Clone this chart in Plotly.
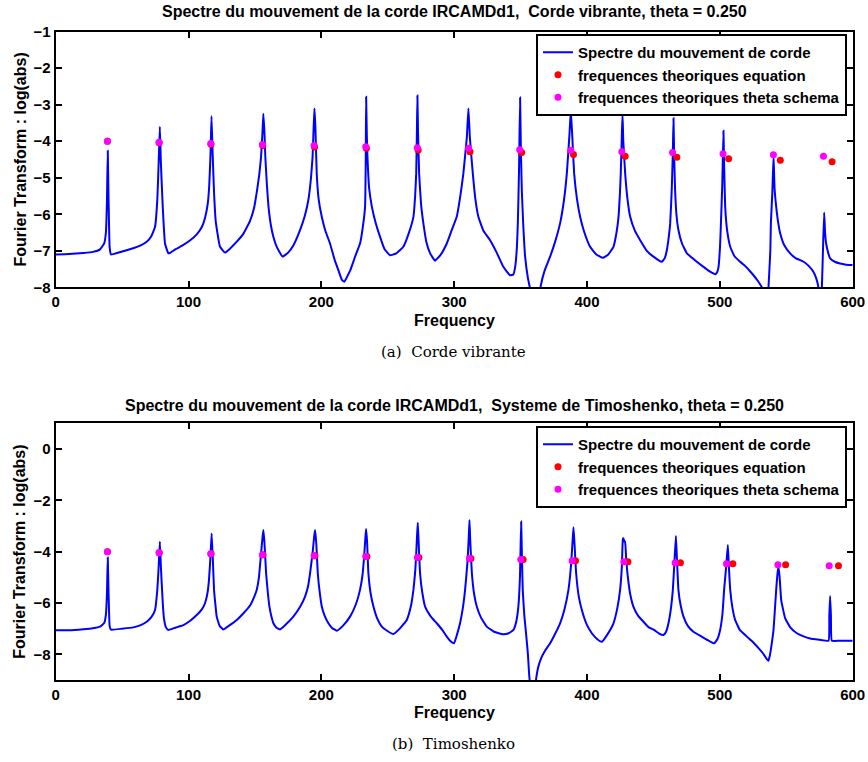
import plotly.graph_objects as go

# ---------------- data ----------------
# Top panel: Corde vibrante
freq_a = [0, 10, 20.8, 28, 33.4, 36.5, 37.8, 38.6, 39.2, 39.8, 40.6, 41.6, 50, 58.4, 64, 68.5, 72, 74.8,
          76.5, 77.5, 78.4, 79.2, 80.6, 82.3, 84.8, 86.5, 90, 96.1, 101, 106.2, 110, 112.4, 114.5, 115.6,
          116.5, 117.3, 118.2, 119.2, 120.5, 123.7, 127.5, 131, 136.3, 141, 146.3, 149.5, 151.6, 153.3,
          154.6, 155.6, 156.3, 157.2, 157.8, 159, 160.2, 162, 163.9, 166.5, 170.8, 175, 179, 184, 187.5,
          190.2, 192.2, 193.4, 194.2, 194.8, 195.5, 196.5, 198, 200.3, 203, 206.5, 210, 212.8, 215.5,
          217.3, 219.5, 221.6, 225.5, 229.1, 231.2, 232.9, 233.4, 233.7, 234.2, 234.7, 236, 238, 241,
          244.2, 247.5, 251.7, 256, 261.7, 265.5, 269.3, 270.6, 271.4, 271.9, 272.3, 272.8, 273.6, 275,
          276.8, 279, 281.9, 285.6, 290, 294.4, 298, 301.9, 305, 306.9, 309.5, 310.7, 311.8, 314, 316,
          318.2, 322, 327, 332, 337, 342, 344.5, 345.9, 347.2, 347.9, 348.8, 349.6, 350.2, 350.9, 352,
          353.4, 355.5, 357.2, 359, 361, 363.5, 365.2, 368, 372.2, 376, 379.7, 382.5, 384.8, 386.8,
          387.8, 388.8, 390.3, 392.5, 394.8, 398, 402.3, 407, 411.9, 416, 419.9, 422.2, 423.7, 424.8,
          425.4, 426.1, 426.7, 427.3, 428.7, 430.5, 432.5, 436, 440, 445, 450, 456.3, 458.5, 460.1,
          461.6, 462.6, 463.8, 464.6, 465.1, 465.6, 466.3, 467.3, 468.8, 471.5, 475.2, 481, 487.7, 493,
          496.5, 498, 499, 500.1, 500.8, 501.8, 502.7, 503.3, 504, 505.5, 507.8, 511, 515.3, 520, 525.3,
          528.5, 531.6, 533.5, 535.5, 536.6, 538, 538.4, 539.5, 540.4, 541.2, 542.4, 544, 545.4, 548.5,
          552.9, 557, 563, 567, 570.5, 572.5, 574.2, 575.5, 576.8, 577.6, 578.5, 579.2, 580, 581.5, 583,
          586.5, 590.5, 595, 600]
spec_a = [-7.10, -7.09, -7.06, -7.03, -6.96, -6.80, -6.50, -5.6, -4.26, -5.6, -6.9, -7.10, -7.02, -6.93,
          -6.85, -6.75, -6.60, -6.34, -5.6, -4.6, -3.60, -4.6, -5.8, -6.80, -7.07, -7.05, -6.96, -6.84,
          -6.72, -6.55, -6.35, -6.10, -5.7, -5.2, -4.4, -3.31, -4.4, -5.4, -6.2, -6.89, -7.05, -6.95,
          -6.75, -6.55, -6.18, -5.80, -5.34, -4.9, -4.42, -3.8, -3.25, -3.8, -4.42, -5.2, -5.79, -6.3,
          -6.62, -6.90, -7.16, -7.05, -6.85, -6.43, -6.05, -5.61, -5.0, -4.42, -3.6, -3.10, -3.6, -4.88,
          -5.6, -6.07, -6.45, -6.80, -7.25, -7.53, -7.80, -7.85, -7.70, -7.55, -7.15, -6.80, -6.35,
          -5.79, -4.6, -2.78, -3.8, -4.42, -5.3, -5.79, -6.25, -6.62, -6.95, -7.12, -7.08, -6.89, -6.55,
          -6.07, -5.5, -4.88, -3.8, -2.75, -3.8, -4.88, -5.7, -6.25, -6.75, -7.07, -7.27, -7.10, -6.80,
          -6.45, -6.07, -5.4, -4.88, -3.9, -3.10, -3.9, -4.88, -5.6, -6.07, -6.45, -6.71, -7.05, -7.44,
          -7.67, -7.65, -7.44, -6.9, -6.25, -4.8, -2.80, -4.2, -5.34, -6.3, -7.16, -7.75, -8.05, -8.5,
          -8.6, -8.4, -7.95, -7.55, -7.16, -6.75, -6.25, -5.65, -4.88, -3.8, -3.16, -3.8, -4.88, -5.6,
          -6.07, -6.5, -6.89, -7.10, -7.19, -7.10, -6.89, -6.5, -6.07, -5.4, -4.88, -4.0, -3.25, -4.0,
          -4.88, -5.6, -6.07, -6.45, -6.71, -7.0, -7.16, -7.30, -7.2, -6.98, -6.6, -6.25, -5.3, -4.3,
          -3.37, -4.4, -5.34, -6.0, -6.43, -6.8, -7.07, -7.25, -7.44, -7.58, -7.64, -7.58, -7.44, -6.9,
          -6.25, -5.2, -3.71, -4.8, -5.79, -6.45, -6.89, -7.15, -7.30, -7.45, -7.67, -7.82, -8.0, -8.6,
          -8.6, -8.0, -7.0, -6.25, -5.4, -4.40, -5.3, -5.79, -6.25, -6.52, -6.85, -7.07, -7.20, -7.30,
          -7.42, -7.58, -7.75, -8.0, -8.6, -8.0, -7.0, -5.95, -6.5, -6.8, -7.05, -7.21, -7.30, -7.35,
          -7.38, -7.39]
eq_freq_a = [39.0, 77.9, 116.9, 155.9, 194.9, 233.9, 272.9, 311.9, 350.8, 389.8, 428.7, 467.6, 506.6, 545.5, 584.5]
eq_val_a = [-4.00, -4.04, -4.08, -4.12, -4.16, -4.19, -4.24, -4.29, -4.31, -4.36, -4.41, -4.44, -4.48, -4.52, -4.56]
th_freq_a = [38.9, 77.8, 116.7, 155.6, 194.5, 233.4, 272.2, 310.8, 349.3, 387.8, 426.2, 464.4, 502.4, 540.3, 578.0]
th_val_a = [-4.00, -4.03, -4.06, -4.09, -4.12, -4.15, -4.18, -4.19, -4.23, -4.25, -4.29, -4.31, -4.34, -4.37, -4.41]

# Bottom panel: Systeme de Timoshenko
freq_b = [0, 10, 20.8, 28, 33.4, 36.5, 37.8, 38.6, 39.2, 39.8, 40.6, 41.6, 50, 58.4, 64, 68.5, 72, 74.8,
          76.5, 77.5, 78.4, 79.2, 80.6, 81.5, 83, 84.8, 88, 92, 96.1, 101, 106.2, 110, 112.4, 114.3,
          115.4, 116.5, 117.4, 118.3, 119.2, 120.3, 121.2, 123.5, 126.2, 130, 136.3, 141, 146.3, 149.5,
          151.3, 153, 154.4, 155.6, 156.3, 157.1, 158.4, 159.7, 160.9, 162.5, 163.9, 166, 168.9, 173,
          178.9, 184, 187.7, 190, 191.5, 193.5, 194.6, 195.3, 196.2, 197.3, 198.8, 200.3, 202.5, 205.3,
          208, 211.6, 216, 221.6, 226, 229.1, 231, 232.2, 233.2, 233.7, 234.4, 235.4, 237, 239.2, 242,
          245.5, 250, 254.2, 259, 264.3, 267.5, 269.3, 270.6, 271.3, 272.1, 272.6, 273.2, 274.3, 276,
          278.1, 282, 286.9, 291, 294.4, 297.5, 299.9, 302, 304.4, 306.5, 308.2, 310, 310.9, 311.5,
          312.1, 313.3, 315, 317, 320, 324.5, 330, 337, 341, 344.6, 346.8, 348.3, 349.5, 350.4, 351,
          351.6, 352.8, 354.1, 355.5, 356.6, 358.5, 360.5, 361.7, 363.5, 366, 368.5, 372.2, 376, 379.7,
          383, 386, 388, 389.1, 389.8, 390.6, 391.8, 393.8, 396.1, 399.5, 403.6, 407.5, 411.1, 415,
          419.9, 422.8, 424.9, 426.2, 427.0, 427.4, 428.0, 428.6, 429.4, 430.4, 432.5, 434.9, 438.5,
          442.5, 446.5, 450.5, 454, 457.5, 459.5, 461.3, 463.2, 464.6, 465.8, 466.9, 467.7, 468.8,
          470.5, 472.6, 476, 480.1, 486, 491, 495.7, 498.2, 500.2, 502, 503.2, 504.7, 506.0, 506.8,
          507.8, 509.5, 511.5, 515, 520.3, 524.5, 529.1, 533, 535.5, 536.6, 537.8, 539, 540.4, 541.5,
          542.4, 543.3, 544.1, 545.0, 546.2, 549.2, 553, 558, 563, 568, 575, 581.8, 582.4, 583.0,
          583.6, 584.3, 590, 600]
spec_b = [-7.06, -7.06, -7.02, -6.98, -6.92, -6.78, -6.45, -5.6, -4.23, -5.6, -6.9, -7.04, -7.00, -6.95,
          -6.86, -6.73, -6.55, -6.27, -5.49, -4.6, -3.61, -4.6, -6.0, -6.6, -6.95, -7.05, -7.0, -6.93,
          -6.86, -6.70, -6.47, -6.25, -6.01, -5.6, -5.10, -4.2, -3.29, -4.3, -5.49, -6.1, -6.53, -6.9,
          -7.03, -6.90, -6.66, -6.42, -6.10, -5.75, -5.49, -5.0, -4.19, -3.5, -3.16, -3.6, -4.84, -5.6,
          -6.14, -6.55, -6.79, -6.95, -7.03, -6.85, -6.53, -6.15, -5.75, -5.35, -4.84, -4.0, -3.4,
          -3.16, -3.7, -4.84, -5.6, -6.14, -6.5, -6.79, -6.97, -7.08, -6.90, -6.53, -6.05, -5.49, -4.9,
          -4.19, -3.4, -3.12, -3.6, -4.84, -5.6, -6.14, -6.6, -6.92, -7.10, -7.21, -7.0, -6.66, -6.1,
          -5.49, -4.8, -4.19, -3.3, -2.87, -3.6, -4.84, -5.6, -6.14, -6.5, -6.79, -7.05, -7.31, -7.50,
          -7.57, -7.25, -6.79, -6.2, -5.49, -4.4, -3.5, -2.77, -3.6, -4.84, -5.65, -6.14, -6.55, -6.92,
          -7.12, -7.22, -7.18, -7.05, -6.7, -6.14, -5.0, -2.83, -4.2, -5.49, -6.5, -7.18, -8.0, -8.9,
          -9.6, -9.6, -8.95, -8.45, -8.09, -7.85, -7.57, -7.2, -6.79, -6.25, -5.49, -4.5, -3.6, -3.05,
          -3.7, -4.84, -5.75, -6.27, -6.8, -7.18, -7.40, -7.51, -7.25, -6.79, -6.2, -5.49, -4.6, -3.5,
          -3.48, -3.6, -3.6, -4.2, -4.84, -5.65, -6.14, -6.5, -6.73, -6.95, -7.05, -7.18, -7.25, -7.12,
          -6.79, -6.2, -5.49, -4.4, -3.39, -4.3, -5.49, -6.1, -6.53, -6.9, -7.12, -7.30, -7.45, -7.57,
          -7.40, -7.05, -6.4, -5.49, -4.6, -3.74, -4.6, -5.49, -6.2, -6.66, -7.05, -7.31, -7.50, -7.76,
          -8.0, -8.20, -8.25, -8.0, -7.6, -7.05, -6.2, -5.49, -4.9, -4.58, -5.0, -5.9, -6.6, -6.95,
          -7.18, -7.30, -7.38, -7.43, -7.47, -6.5, -5.73, -6.5, -7.47, -7.47, -7.47]
eq_freq_b = [39.0, 78.0, 117.0, 156.1, 195.2, 234.3, 273.4, 312.6, 351.9, 391.3, 430.8, 470.3, 509.8, 549.5, 589.3]
eq_val_b = [-4.00, -4.04, -4.08, -4.12, -4.16, -4.19, -4.23, -4.27, -4.31, -4.35, -4.39, -4.43, -4.47, -4.51, -4.55]
th_freq_b = [38.9, 77.8, 116.7, 155.6, 194.5, 233.4, 272.3, 311.5, 350.1, 388.8, 427.7, 466.3, 505.0, 543.7, 582.3]
th_val_b = [-4.00, -4.04, -4.08, -4.12, -4.16, -4.19, -4.23, -4.27, -4.31, -4.35, -4.39, -4.43, -4.47, -4.51, -4.55]

x_ticks = [0, 100, 200, 300, 400, 500, 600]
y_ticks_a = [-8, -7, -6, -5, -4, -3, -2, -1]
y_ticks_b = [-8, -6, -4, -2, 0]

names = ["Spectre du mouvement de corde",
         "frequences theoriques equation",
         "frequences theoriques theta schema"]
titles = ["Spectre du mouvement de la corde IRCAMDd1,\u00a0 Corde vibrante, theta = 0.250",
          "Spectre du mouvement de la corde IRCAMDd1,\u00a0 Systeme de Timoshenko, theta = 0.250"]
captions = ["(a)\u00a0 Corde vibrante", "(b)\u00a0 Timoshenko"]

# ---------------- figure ----------------
W, H = 868, 762
FONT = "Liberation Sans, Arial, Helvetica, sans-serif"

fig = go.Figure()
panels = [
    (freq_a, spec_a, eq_freq_a, eq_val_a, th_freq_a, th_val_a, "x", "y", "legend"),
    (freq_b, spec_b, eq_freq_b, eq_val_b, th_freq_b, th_val_b, "x2", "y2", "legend2"),
]
for fr, sp, ef, ev, tf, tv, xa, ya, lg in panels:
    fig.add_trace(go.Scatter(x=fr, y=sp, mode="lines", name=names[0],
                             line=dict(color="#0000ff", width=2, shape="spline", smoothing=0.35),
                             xaxis=xa, yaxis=ya, legend=lg))
    fig.add_trace(go.Scatter(x=ef, y=ev, mode="markers", name=names[1],
                             marker=dict(color="#ff0000", size=7, line=dict(width=0)),
                             xaxis=xa, yaxis=ya, legend=lg, cliponaxis=False))
    fig.add_trace(go.Scatter(x=tf, y=tv, mode="markers", name=names[2],
                             marker=dict(color="#ff00ff", size=7, line=dict(width=0)),
                             xaxis=xa, yaxis=ya, legend=lg, cliponaxis=False))

xdom = [55.7 / W, 852.7 / W]
ydom_a = [1 - 287.3 / H, 1 - 31.7 / H]
ydom_b = [1 - 680.0 / H, 1 - 423.3 / H]

axis_common = dict(showline=True, linecolor="black", linewidth=2, mirror="ticks",
                   ticks="inside", ticklen=6, tickwidth=1.5, tickcolor="black",
                   showgrid=False, zeroline=False, automargin=False,
                   tickfont=dict(family=FONT, size=15, color="black", weight="bold"))

LEGFONT = dict(family=FONT, size=15, color="black", weight="bold")
fig.update_layout(
    width=W, height=H,
    margin=dict(l=0, r=0, t=0, b=0, autoexpand=False),
    paper_bgcolor="white", plot_bgcolor="white",
    font=dict(family=FONT, color="black", weight="bold"),
    showlegend=True,
    xaxis=dict(domain=xdom, range=[0, 600], tickvals=x_ticks, anchor="y", **axis_common),
    yaxis=dict(domain=ydom_a, range=[-8, -1], tickvals=y_ticks_a, anchor="x", **axis_common),
    xaxis2=dict(domain=xdom, range=[0, 600], tickvals=x_ticks, anchor="y2", **axis_common),
    yaxis2=dict(domain=ydom_b, range=[-9, 1], tickvals=y_ticks_b, anchor="x2", **axis_common),
    legend=dict(x=847 / W, xanchor="right", y=1 - 34 / H, yanchor="top",
                bgcolor="white", bordercolor="black", borderwidth=2,
                font=LEGFONT, tracegroupgap=0, itemwidth=30),
    legend2=dict(x=847 / W, xanchor="right", y=1 - 426 / H, yanchor="top",
                 bgcolor="white", bordercolor="black", borderwidth=2,
                 font=LEGFONT, tracegroupgap=0, itemwidth=30),
)

ann = []
for title, ty in zip(titles, [12, 405]):
    ann.append(dict(text=title, x=454 / W, y=1 - ty / H, xref="paper", yref="paper",
                    xanchor="center", yanchor="middle", showarrow=False,
                    font=dict(family=FONT, size=16, color="black", weight="bold")))
for fy in [320, 712]:
    ann.append(dict(text="Frequency", x=454 / W, y=1 - fy / H, xref="paper", yref="paper",
                    xanchor="center", yanchor="middle", showarrow=False,
                    font=dict(family=FONT, size=16, color="black", weight="bold")))
for cy in [159.5, 551.7]:
    ann.append(dict(text="Fourier Transform : log(abs)", x=20 / W, y=1 - cy / H, xref="paper",
                    yref="paper", xanchor="center", yanchor="middle", textangle=-90,
                    showarrow=False,
                    font=dict(family=FONT, size=16, color="black", weight="bold")))
for cap, cy in zip(captions, [352, 744]):
    ann.append(dict(text=cap, x=453 / W, y=1 - cy / H, xref="paper", yref="paper",
                    xanchor="center", yanchor="middle", showarrow=False,
                    font=dict(family="DejaVu Serif, Liberation Serif, serif", size=15,
                              color="black", weight="normal")))
fig.update_layout(annotations=ann)

fig.write_html(
    "out.html",
    config={"displayModeBar": False},
    post_script="document.body.style.margin='0';document.body.style.overflow='hidden';",
)
